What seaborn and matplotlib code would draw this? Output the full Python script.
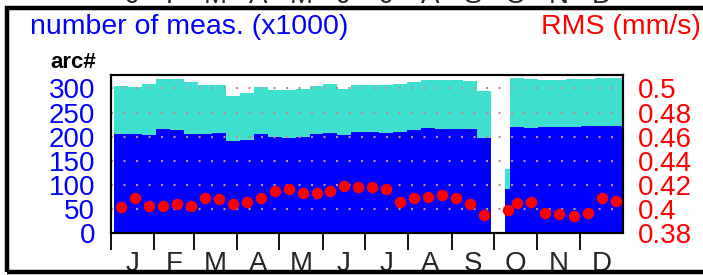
import numpy as np
import pandas as pd
import matplotlib
matplotlib.use("Agg")
import matplotlib.pyplot as plt
from matplotlib.patches import Rectangle
import seaborn as sns

# months of the year (axis labels) and their first day-of-year
months = ["J", "F", "M", "A", "M", "J", "J", "A", "S", "O", "N", "D"]
month_start = [0, 31, 59, 90, 120, 151, 181, 212, 243, 273, 304, 334]

# 36 ten-day periods: total measurements and arc measurements (x1000)
n_total = [304, 302, 308, 320, 320, 313, 306, 306, 284, 290, 302, 297,
           297, 298, 305, 308, 298, 306, 306, 306, 310, 313, 318, 318,
           318, 316, 294, 134, 321, 319, 318, 318, 319, 320, 321, 321]
n_arc = [206, 205, 203, 215, 213, 205, 205, 207, 191, 194, 205, 199,
         197, 199, 205, 207, 204, 209, 209, 207, 210, 214, 217, 216,
         216, 216, 197, 92, 221, 218, 219, 220, 221, 222, 223, 222]
# RMS (mm/s) per period
rms = [0.402, 0.409, 0.403, 0.403, 0.404, 0.403, 0.409, 0.408, 0.404,
       0.406, 0.409, 0.415, 0.417, 0.413, 0.413, 0.415, 0.419, 0.418,
       0.418, 0.417, 0.406, 0.409, 0.410, 0.412, 0.409, 0.404, 0.395,
       0.399, 0.405, 0.406, 0.397, 0.396, 0.394, 0.397, 0.409, 0.407]

# period boundaries (day of year); data gap at the start of October
edges = np.r_[np.linspace(2.1, 271, 28), 281, np.linspace(284.4, 365, 9)]
centers = np.delete((edges[:-1] + edges[1:]) / 2, 27)

df = pd.DataFrame({"day": centers, "total": n_total, "arc": n_arc, "rms": rms})

sns.set_theme(style="white")
plt.rcParams["font.family"] = ["Liberation Sans", "DejaVu Sans"]

W, H = 703, 275
fig = plt.figure(figsize=(W / 100, H / 100), dpi=100)
ax = fig.add_axes([111 / W, 1 - 233.3 / H, 512 / W, 158 / H])

sns.histplot(data=df, x="day", weights="total", bins=list(edges), element="step",
             fill=True, color="#40e0d0", alpha=1, linewidth=0, ax=ax)
sns.histplot(data=df, x="day", weights="arc", bins=list(edges), element="step",
             fill=True, color="#0000ff", alpha=1, linewidth=0, ax=ax)

ax.set_xlim(0, 365)
ax.set_ylim(0, 327)
ax.set_xlabel("")
ax.set_ylabel("")
ax.set_yticks(range(0, 301, 50))
ax.tick_params(axis="y", colors="blue", length=0, labelsize=20, pad=11.5)

# month boundaries as ticks, month names centred between them
ax.set_xticks(month_start)
ax.set_xticklabels([])
ax.tick_params(axis="x", which="major", direction="out", length=12, width=1.3,
               color="black", bottom=True)
month_len = np.diff(month_start + [365])
ax.set_xticks(np.array(month_start) + month_len / 2, minor=True)
ax.set_xticklabels(months, minor=True)
ax.tick_params(axis="x", which="minor", length=0, labelsize=20, pad=12.5)

ax.grid(axis="y", color="#bc8f8f", linestyle=(0, (1, 5)), linewidth=1.5)
ax.grid(axis="x", visible=False)
ax.set_axisbelow(False)
for s in ax.spines.values():
    s.set_color("black")
    s.set_linewidth(1.5)

ax2 = ax.twinx()
sns.scatterplot(data=df, x="day", y="rms", color="red", s=68, linewidth=0, ax=ax2, zorder=3)
ax2.set_ylim(0.38, 0.5108)
rt = np.round(np.arange(0.38, 0.501, 0.02), 2)
ax2.set_yticks(rt)
ax2.set_yticklabels([f"{v:g}" for v in rt])
ax2.set_ylabel("")
ax2.tick_params(axis="y", colors="red", length=0, labelsize=20, pad=11)
for s in ax2.spines.values():
    s.set_color("black")
    s.set_linewidth(1.5)

fig.text(30 / W, 1 - 27 / H, "number of meas. (x1000)", color="blue",
         fontsize=20.5, ha="left", va="center")
fig.text(701 / W, 1 - 27 / H, "RMS (mm/s)", color="red",
         fontsize=20.5, ha="right", va="center")
fig.text(50 / W, 1 - 63 / H, "arc#", color="black", fontsize=16,
         fontweight="bold", ha="left", va="center")

# month labels of the panel above, cut by the image edge
for m, c in zip(months, np.array(month_start) + month_len / 2):
    fig.text((111 + c * 512 / 365) / W, 1 - 2.7 / H, m, fontsize=20,
             ha="center", va="baseline")

fig.add_artist(Rectangle((7.5 / W, 3 / H), 1.1, 264 / H, transform=fig.transFigure,
                         fill=False, edgecolor="black", linewidth=3.2, clip_on=False))

fig.savefig("out.png", dpi=100)
